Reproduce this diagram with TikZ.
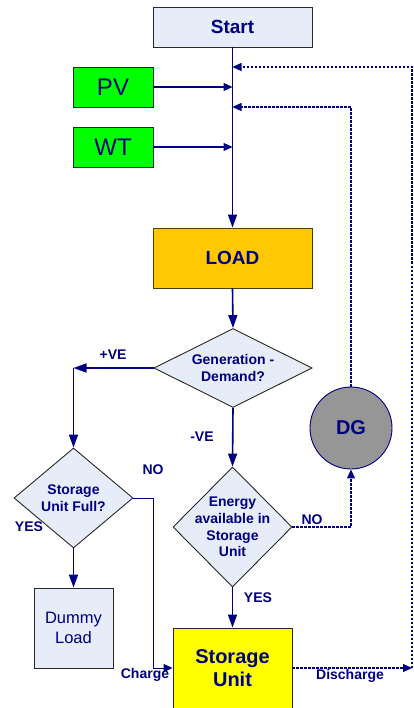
\documentclass[tikz,border=0pt]{standalone}
\usepackage{fontspec}
\setmainfont{Liberation Sans}
\usetikzlibrary{shapes.geometric,arrows.meta,calc}
\definecolor{navy}{RGB}{0,0,128}
\definecolor{boxfill}{RGB}{230,237,248}
\definecolor{pvgreen}{RGB}{0,255,0}
\definecolor{loadorange}{RGB}{255,200,0}
\definecolor{suyellow}{RGB}{255,255,0}
\definecolor{dggray}{RGB}{150,150,150}
\definecolor{edge}{RGB}{40,40,40}
\begin{document}
\begin{tikzpicture}[x=1pt,y=-1pt,
  box/.style={rectangle,draw=edge,line width=0.9pt,inner sep=0pt,text=navy,align=center},
  dia/.style={diamond,draw=edge,line width=0.9pt,fill=boxfill,inner sep=0pt},
  dtext/.style={text=navy,align=center,font=\fontsize{14}{16.7}\selectfont\bfseries},
  lbl/.style={text=navy,font=\fontsize{14}{16.7}\selectfont\bfseries,inner sep=0pt},
  mainarr/.style={draw=navy,line width=1.6pt,-{Triangle[length=13pt,width=9pt]}},
  thinarr/.style={draw=navy,line width=1.2pt,-{Triangle[length=9pt,width=8pt]}},
  dsharr/.style={draw=navy,line width=1.3pt,dash pattern=on 2.5pt off 1.5pt,-{Triangle[length=9pt,width=8pt]}}]
\useasboundingbox (0,0) rectangle (413,708);
\fill[white] (0,0) rectangle (413,708);
% nodes
\node[box,fill=boxfill,minimum width=159,minimum height=40,font=\fontsize{19}{21}\selectfont\bfseries] (start) at (232.5,27) {Start};
\node[box,fill=pvgreen,minimum width=80,minimum height=40,font=\fontsize{24}{26}\selectfont] (pv) at (113,87) {PV};
\node[box,fill=pvgreen,minimum width=80,minimum height=40,font=\fontsize{24}{26}\selectfont] (wt) at (113,147) {WT};
\node[box,fill=loadorange,draw={rgb,255:red,80;green,64;blue,0},minimum width=159,minimum height=60,font=\fontsize{19}{21}\selectfont\bfseries] (load) at (232.5,258) {LOAD};
\node[dia,minimum width=158,minimum height=79] (d1) at (233,368) {};
\node[dtext] (t1) at (d1.center) {Generation -\\Demand?};
\node[dia,minimum width=119,minimum height=100] (d2) at (73.5,498) {};
\node[dtext] (t2) at (d2.center) {Storage\\Unit Full?};
\node[box,fill=boxfill,minimum width=79,minimum height=80,font=\fontsize{16.5}{20}\selectfont] (dummy) at (73.5,628) {Dummy\\Load};
\node[dia,minimum width=119,minimum height=120] (d3) at (232.5,527) {};
\node[dtext] (t3) at (d3.center) {Energy\\available in\\Storage\\Unit};
\node[box,fill=suyellow,minimum width=119,minimum height=80,font=\fontsize{20}{23.3}\selectfont\bfseries] (su) at (232.5,668) {Storage\\Unit};
\node[circle,draw=navy,line width=0.9pt,fill=dggray,minimum size=82,inner sep=0pt,text=navy,font=\fontsize{20}{22}\selectfont\bfseries] (dg) at (351,428) {DG};
% coordinates
\coordinate (jpv) at (232.5,87);
\coordinate (jwt) at (232.5,147);
\coordinate (jtop) at (232.5,67);
\coordinate (jdg) at (232.5,107);
\coordinate (rc) at (412,668);
\coordinate (k1) at (73.5,368);
\coordinate (k2) at (153,498);
% connectors
\draw[mainarr] (start.south) -- (load.north);
\draw[thinarr] (pv.east) -- (jpv);
\draw[thinarr] (wt.east) -- (jwt);
\draw[mainarr] (load.south) -- (d1.north);
\draw[mainarr] (d1.west) -- (k1);
\draw[mainarr] (k1) -- (d2.north);
\draw[mainarr] (d2.south) -- (dummy.north);
\draw[mainarr] (d1.south) -- (d3.north);
\draw[mainarr] (d3.south) -- (su.north);
\draw[thinarr,line width=1pt] (d2.east) -- (k2) |- (su.west);
\draw[dsharr] (d3.east) -| (dg.south);
\draw[dsharr] (dg.north) |- (jdg);
\draw[dsharr] (su.east) -- (rc);
\draw[dsharr] (rc) |- (jtop);
% labels
\node[lbl] (l1) at (113,355) {+VE};
\node[lbl] (l2) at (153,470) {NO};
\node[lbl] (l3) at (29,527) {YES};
\node[lbl] (l4) at (202,437) {-VE};
\node[lbl] (l5) at (312,520) {NO};
\node[lbl] (l6) at (258,598) {YES};
\node[lbl] (l7) at (145,675) {Charge};
\node[lbl] (l8) at (350,676) {Discharge};
\end{tikzpicture}
\end{document}
